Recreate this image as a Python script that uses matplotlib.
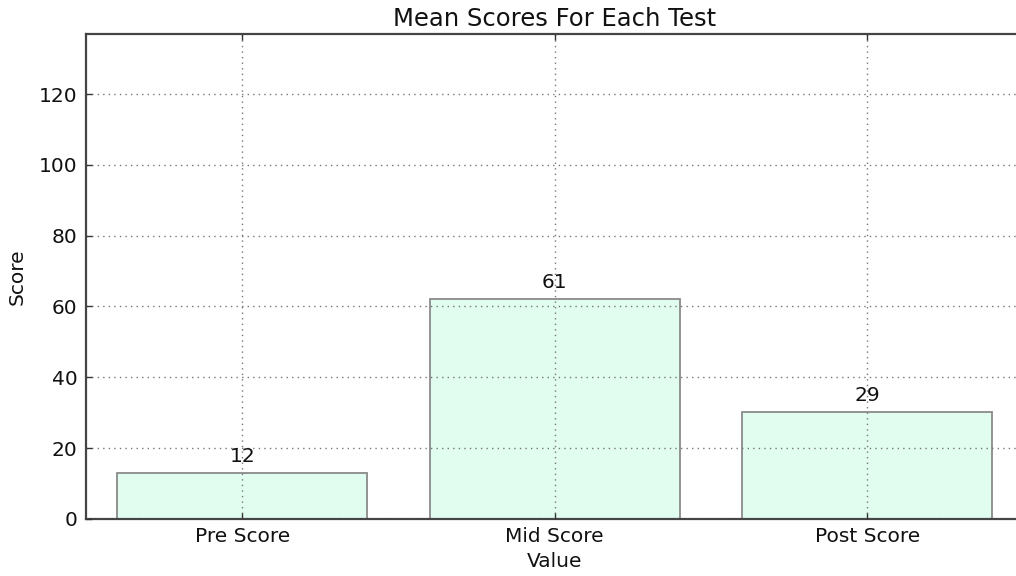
import matplotlib
matplotlib.use('Agg')
import matplotlib.pyplot as plt

# Data
tests = ['Pre Score', 'Mid Score', 'Post Score']
mean_scores = [12.96, 62.25, 30.1]
score_labels = ['12', '61', '29']
y_ticks = [0, 20, 40, 60, 80, 100, 120]

fig = plt.figure(figsize=(10.16, 5.76), dpi=100, facecolor='white')
ax = fig.add_axes([0.0846, 0.099, 0.9227, 0.842])

x = range(len(tests))
ax.bar(x, mean_scores, width=0.8, align='center', color='#e0fdf0',
       edgecolor='#8a8a8a', linewidth=1.3, zorder=2)

for i, (v, lab) in enumerate(zip(mean_scores, score_labels)):
    ax.annotate(lab, (i, v), xytext=(0, 5), textcoords='offset points',
                ha='center', va='bottom', fontsize=14.5, color='#111111', zorder=3)

ax.set_xlim(-0.5, 2.5)
ax.set_ylim(0, max(mean_scores) * 2.2)
ax.set_xticks(list(x))
ax.set_xticklabels(tests)
ax.set_yticks(y_ticks)

ax.grid(True, linestyle=(0, (1, 3)), color='#777777', linewidth=1.0, zorder=3)
ax.set_axisbelow(False)

ax.tick_params(direction='in', length=4, width=1, colors='#333333',
               labelsize=14.5, labelcolor='#111111', top=True, right=True, pad=6)

for spine in ax.spines.values():
    spine.set_edgecolor('#444444')
    spine.set_linewidth(1.6)

ax.set_title('Mean Scores For Each Test', fontsize=17.5, color='#111111', pad=6)
ax.set_xlabel('Value', fontsize=14.5, color='#111111', labelpad=4)
ax.set_ylabel('Score', fontsize=14.5, color='#111111', labelpad=9)

fig.savefig('out.png', dpi=100, facecolor='white')
plt.close(fig)
